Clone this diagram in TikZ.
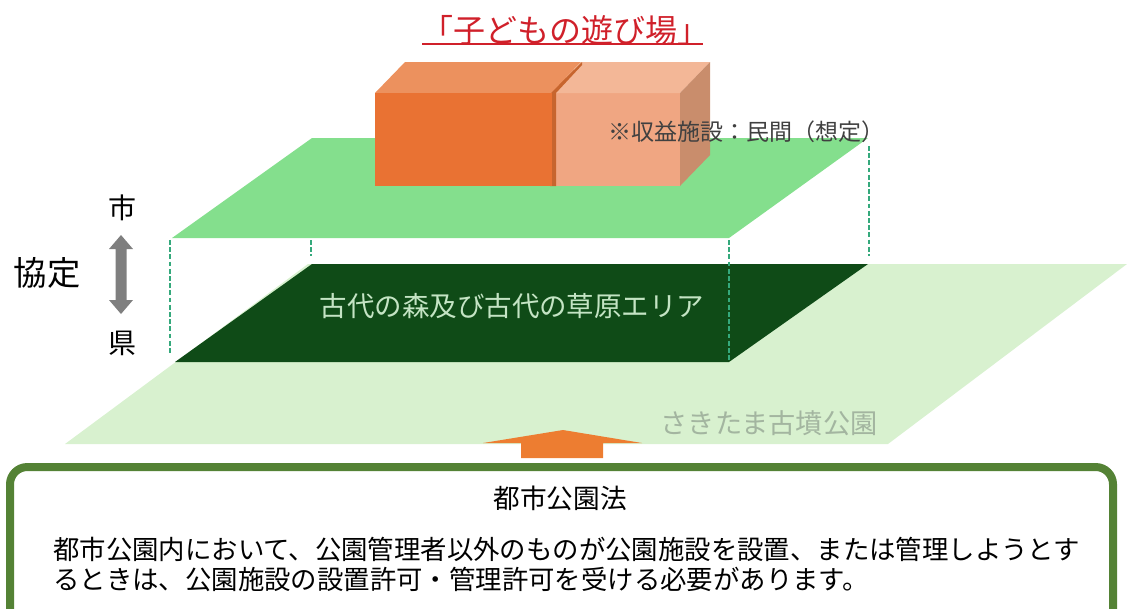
\documentclass[tikz,border=0pt]{standalone}
\usepackage{fontspec}
\setmainfont{Noto Sans CJK JP}
\begin{document}
\begin{tikzpicture}[x=0.75pt,y=-0.75pt,
  mylabel/.style={inner sep=0pt,text=#1},
  mydash/.style={dash pattern=on 3.6pt off 1.8pt,line width=1.4pt,color=dashgreen}]
\definecolor{dashgreen}{HTML}{35A97C}
\definecolor{paleplane}{HTML}{D8F1CF}
\definecolor{darkplane}{HTML}{0F4B17}
\definecolor{midplane}{HTML}{84DF8D}
\definecolor{redtitle}{HTML}{D0202A}
\definecolor{framegreen}{HTML}{548235}
\definecolor{arroworange}{HTML}{ED7D31}
\definecolor{greytext}{HTML}{404040}
\definecolor{paletext}{HTML}{A3B5A0}
\definecolor{planetext}{HTML}{C4E4C4}
\definecolor{blockfront}{HTML}{E97233}
\definecolor{blocktop}{HTML}{EC915E}
\definecolor{blockedge}{HTML}{C7652E}
\definecolor{lightfront}{HTML}{F0A682}
\definecolor{lighttop}{HTML}{F3B797}
\definecolor{lightside}{HTML}{C98D6C}
\definecolor{greyarrow}{HTML}{7F7F7F}
\useasboundingbox (0,0) rectangle (1127,608);
\clip (0,0) rectangle (1127,608);
% planes
\fill[paleplane] (65,444) -- (308,264) -- (1127,264) -- (888,444) -- cycle;
\fill[darkplane] (175,362) -- (312,264) -- (868,264) -- (729,362) -- cycle;
\fill[midplane] (172,238) -- (312,138) -- (868,138) -- (729,238) -- cycle;
% dashed uprights
\foreach \xa/\ya/\yb in {170/240/354,311/240/256,729/240/360,869/146/256}
{  \draw[mydash] (\xa,\ya) -- (\xa,\yb);}
% blocks
\fill[lightfront] (556,93) rectangle (680,186);
\fill[lighttop] (552,93) -- (582,62) -- (710,62) -- (680,93) -- cycle;
\fill[lightside] (680,93) -- (710,62) -- (710,155) -- (680,186) -- cycle;
\fill[blockedge] (550,93) -- (582,62) -- (582,65) -- (556,93) -- (556,186) -- (550,186) -- cycle;
\fill[blocktop] (375,93) -- (405,62) -- (581,62) -- (551,93) -- cycle;
\fill[blockfront] (375,93) rectangle (552,186);
% arrows
\fill[greyarrow] (121,235) -- (133,249) -- (126.5,249) -- (126.5,300) -- (133,300) -- (121,314) -- (109,300) -- (115.5,300) -- (115.5,249) -- (109,249) -- cycle;
\fill[arroworange] (483,443) -- (563,430) -- (642,443) -- (603,443) -- (603,458) -- (521,458) -- (521,443) -- cycle;
% frame
\draw[framegreen,line width=6pt,fill=white,rounded corners=13pt] (10,467) rectangle (1113,630);
% labels
\node[mylabel=redtitle,font=\fontsize{24pt}{24pt}\selectfont] (title) at (565,30) {「子どもの遊び場」};
\draw[redtitle,line width=1.2pt] (422,44) -- (703,44);
\node[mylabel=greytext,font=\fontsize{17.25pt}{17.25pt}\selectfont] (income) at (746,132) {※収益施設\char"FF1A 民間\char"FF08 想定\char"FF09};
\node[mylabel=black,font=\fontsize{25pt}{25pt}\selectfont] (kyotei) at (47,273) {協定};
\node[mylabel=black,font=\fontsize{21pt}{21pt}\selectfont] (shi) at (122,208) {市};
\node[mylabel=black,font=\fontsize{21pt}{21pt}\selectfont] (ken) at (122,343) {県};
\node[mylabel=planetext,font=\fontsize{20.6pt}{20.6pt}\selectfont] (area) at (512,306) {古代の森及び古代の草原エリア};
\node[mylabel=paletext,font=\fontsize{20.4pt}{20.4pt}\selectfont] (park) at (769,423) {さきたま古墳公園};
\node[mylabel=black,font=\fontsize{20pt}{20pt}\selectfont] (law) at (560,498) {都市公園法};
\node[mylabel=black,font=\fontsize{19.8pt}{19.8pt}\selectfont,anchor=west] (lineone) at (53,549) {都市公園内において、公園管理者以外のものが公園施設を設置、または管理しようとす};
\node[mylabel=black,font=\fontsize{19.8pt}{19.8pt}\selectfont,anchor=west] (linetwo) at (53,579) {るときは、公園施設の設置許可・管理許可を受ける必要があります。};
\end{tikzpicture}
\end{document}
